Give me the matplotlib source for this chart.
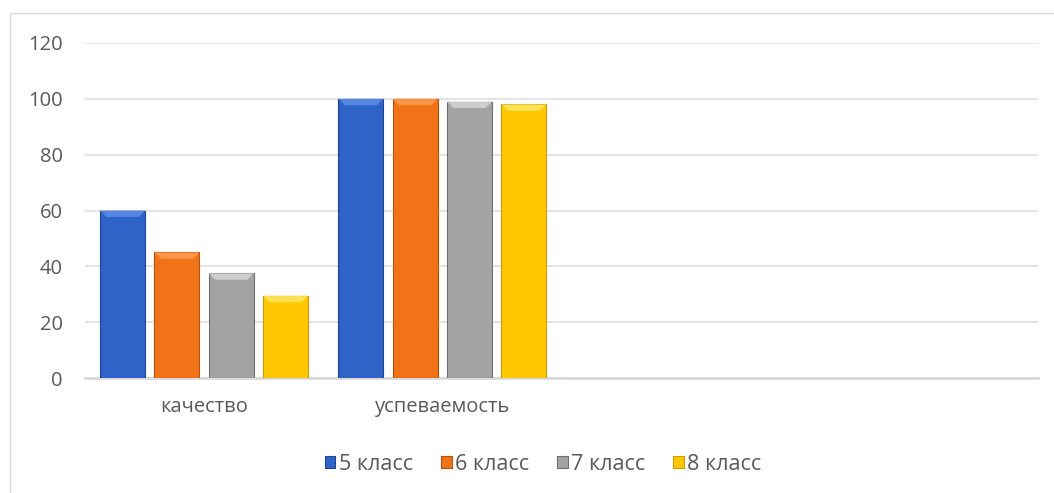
import matplotlib
matplotlib.use("Agg")
import matplotlib.pyplot as plt
from matplotlib.patches import Polygon, Rectangle
import numpy as np

plt.rcParams['font.family'] = ['Open Sans', 'DejaVu Sans']

categories = ["качество", "успеваемость", "", ""]
series_names = ["5 класс", "6 класс", "7 класс", "8 класс"]
grade5 = [60, 100]
grade6 = [45, 100]
grade7 = [37.5, 99]
grade8 = [29.5, 98]
series_values = [grade5, grade6, grade7, grade8]
colors = ["#2F63C8", "#F0731A", "#A3A3A3", "#FFC800"]
edge_colors = ["#1F4592", "#B5520C", "#6E6E6E", "#C89A00"]
light_colors = ["#5A8BE6", "#FF9A4D", "#D2D2D2", "#FFE45C"]
yticks = [0, 20, 40, 60, 80, 100, 120]

fig = plt.figure(figsize=(10.54, 4.93), dpi=100)
ax = fig.add_axes([85/1054, 1 - 378/493, (1038-85)/1054, (378-43)/493])

x = np.arange(len(categories))
step = 0.228
width = 0.189
for i, (name, vals) in enumerate(zip(series_names, series_values)):
    xs = x[:len(vals)] + (i - 1.5) * step
    bars = ax.bar(xs, vals, width=width, color=colors[i], edgecolor=edge_colors[i],
                  linewidth=0.8, label=name, zorder=3)
    for b in bars:
        x0, w, h = b.get_x(), b.get_width(), b.get_height()
        dx = 0.028
        dy = 2.3
        top = Polygon([[x0, h], [x0 + w, h], [x0 + w - dx, h - dy], [x0 + dx, h - dy]],
                      closed=True, facecolor=light_colors[i], edgecolor='none', zorder=4, alpha=0.9)
        ax.add_patch(top)

ax.set_xlim(-0.5, len(categories) - 0.5)
ax.set_ylim(0, 120)
ax.set_yticks(yticks)
ax.set_xticks(x)
ax.set_xticklabels(categories)
ax.tick_params(axis='both', length=0, labelsize=14.5, colors='#595959')
ax.tick_params(axis='y', pad=16)
ax.tick_params(axis='x', pad=14)
ax.grid(axis='y', color='#DDDDDD', linewidth=1.1, zorder=0)
for s in ['top', 'right', 'left']:
    ax.spines[s].set_visible(False)
ax.spines['bottom'].set_color('#D9D9D9')
ax.spines['bottom'].set_linewidth(2)
ax.spines['bottom'].set_zorder(2)

leg = fig.legend(loc='center', bbox_to_anchor=(543/1054, 1 - 464/493), ncol=4, frameon=False,
                 fontsize=15.5, handlelength=0.5, handleheight=0.5, handletextpad=0.15,
                 columnspacing=1.3, labelcolor='#595959')

fig.patches.append(Rectangle((9.5/1054, -0.1), 1.2, 1 - 13.5/493 + 0.1, transform=fig.transFigure,
                             fill=False, edgecolor='#D9D9D9', linewidth=1, zorder=0))

fig.savefig("out.png", dpi=100)
